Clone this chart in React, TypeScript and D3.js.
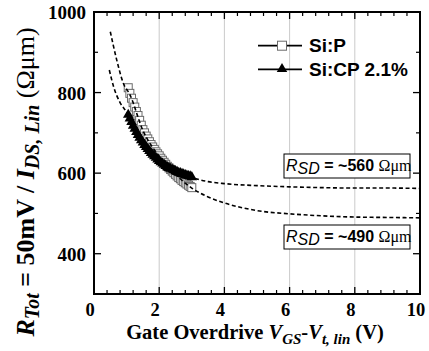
import React from "react";
import * as d3 from "d3";

const siPX = [1.05,1.1,1.15,1.2,1.25,1.3,1.35,1.4,1.45,1.5,1.55,1.6,1.65,1.7,1.75,1.8,1.85,1.9,1.95,2.0,2.05,2.1,2.15,2.2,2.25,2.3,2.35,2.4,2.45,2.5,2.55,2.6,2.65,2.7,2.75,2.8,2.85,2.9,2.95,3.0];
const siPY = [812,798,786,775,764,753,743,731,719,708,700,692,685,678,671,665,659,653,648,643,637,632,627,622,617,613,609,605,601,597,593,589,586,582,579,576,573,570,567,564];
const siCPX = siPX;
const siCPY = [745,736,727,718,710,702,695,688,682,676,670,665,660,655,650,646,642,638,634,630,627,624,621,618,615,613,611,609,607,605,603,601,600,598,597,595,594,593,592,590];

const fitPX = [0.5,0.7,0.9,1.1,1.5,2,2.5,3,3.5,4,5,6,7,8,9,10];
const fitPY = [951,880,823,795,706,642,597,563,541,526,507,499,494,491,490,489];
const fitCPX = [0.47,0.6,0.8,1.0,1.5,2,2.5,3,3.5,4,5,6,7,8,9,10];
const fitCPY = [856,815,775,752,677,630,605,589,579,574,569,566,564,563,563,562];

const xMajor = [0, 2, 4, 6, 8, 10];
const yMajor = [400, 600, 800, 1000];
const gridX = [2, 4, 6, 8];

const L = 94, R = 420, T = 12, B = 294;

export default function App() {
  const x = d3.scaleLinear().domain([0, 10]).range([L, R]);
  const y = d3.scaleLinear().domain([300, 1000]).range([B, T]);
  const line = d3.line<[number, number]>().x(d => x(d[0])).y(d => y(d[1])).curve(d3.curveMonotoneX);
  const fitP = line(fitPX.map((v, i) => [v, fitPY[i]]) as [number, number][]) || "";
  const fitCP = line(fitCPX.map((v, i) => [v, fitCPY[i]]) as [number, number][]) || "";
  const xMinor = d3.range(0, 10.001, 0.4).filter(v => Math.abs(v / 2 - Math.round(v / 2)) > 0.01);
  const yMinor = [500, 700, 900];
  const tri = d3.symbol().type(d3.symbolTriangle).size(48)() || "";
  const sq = 8;
  const serif = "'Liberation Serif', 'Times New Roman', serif";
  const sans = "'Liberation Sans', Arial, sans-serif";

  return (
    <svg width={429} height={351} style={{ position: "absolute", left: 0, top: 0, background: "#fff" }}>
      <rect x={0} y={0} width={429} height={351} fill="#fff" />
      {gridX.map(v => (
        <line key={"g" + v} x1={x(v)} x2={x(v)} y1={T} y2={B} stroke="#bdbdbd" strokeWidth={0.8} />
      ))}
      {siPX.map((v, i) => (
        <rect key={"s" + i} x={x(v) - sq / 2} y={y(siPY[i]) - sq / 2} width={sq} height={sq} fill="#fff" stroke="#6a6a6a" strokeWidth={1} />
      ))}
      {siCPX.map((v, i) => (
        <path key={"t" + i} d={tri} transform={`translate(${x(v)},${y(siCPY[i])})`} fill="#000" />
      ))}
      <path d={fitP} fill="none" stroke="#000" strokeWidth={1.6} strokeDasharray="4,2.6" />
      <path d={fitCP} fill="none" stroke="#000" strokeWidth={1.6} strokeDasharray="4,2.6" />
      {xMajor.map(v => (
        <g key={"xm" + v}>
          <line x1={x(v)} x2={x(v)} y1={B} y2={B - 7} stroke="#000" strokeWidth={1.3} />
          <line x1={x(v)} x2={x(v)} y1={T} y2={T + 7} stroke="#000" strokeWidth={1.3} />
          <text x={x(v) - 4} y={315.5} textAnchor="middle" fontFamily={serif} fontWeight="bold" fontSize={18.5}>{v}</text>
        </g>
      ))}
      {xMinor.map(v => (
        <g key={"xn" + v}>
          <line x1={x(v)} x2={x(v)} y1={B} y2={B - 4} stroke="#000" strokeWidth={1.2} />
          <line x1={x(v)} x2={x(v)} y1={T} y2={T + 4} stroke="#000" strokeWidth={1.2} />
        </g>
      ))}
      {yMajor.map(v => (
        <g key={"ym" + v}>
          <line x1={L} x2={L + 7} y1={y(v)} y2={y(v)} stroke="#000" strokeWidth={1.3} />
          <line x1={R} x2={R - 7} y1={y(v)} y2={y(v)} stroke="#000" strokeWidth={1.3} />
          <text x={86} y={y(v) + 7} textAnchor="end" fontFamily={serif} fontWeight="bold" fontSize={19}>{v}</text>
        </g>
      ))}
      {yMinor.map(v => (
        <g key={"yn" + v}>
          <line x1={L} x2={L + 4} y1={y(v)} y2={y(v)} stroke="#000" strokeWidth={1.2} />
          <line x1={R} x2={R - 4} y1={y(v)} y2={y(v)} stroke="#000" strokeWidth={1.2} />
        </g>
      ))}
      <rect x={L} y={T} width={R - L} height={B - T} fill="none" stroke="#000" strokeWidth={2} />
      <line x1={258} x2={302} y1={45.7} y2={45.7} stroke="#000" strokeWidth={1.8} />
      <rect x={282 - 4.5} y={45.7 - 4.5} width={9} height={9} fill="#fff" stroke="#6a6a6a" strokeWidth={1} />
      <text x={309} y={52} fontFamily={sans} fontWeight="bold" fontSize={19}>Si:P</text>
      <line x1={258} x2={302} y1={69.3} y2={69.3} stroke="#000" strokeWidth={1.8} />
      <path d={tri} transform="translate(282,69)" fill="#000" />
      <text x={309} y={76} fontFamily={sans} fontWeight="bold" fontSize={19}>Si:CP 2.1%</text>
      {[{ y0: 154, lab: "~560" }, { y0: 225, lab: "~490" }].map(b => (
        <g key={b.lab}>
          <rect x={284} y={b.y0} width={126} height={24} fill="#fff" stroke="#000" strokeWidth={1} />
          <text x={286} y={b.y0 + 17} fontFamily={sans} fontSize={16}>
            <tspan fontStyle="italic">R</tspan>
            <tspan fontStyle="italic" dy={3}>SD</tspan>
            <tspan dy={-3} fontWeight="bold"> = {b.lab} </tspan>
            <tspan fontFamily={serif} fontSize={16}>Ωμm</tspan>
          </text>
        </g>
      ))}
      <text x={255} y={338.5} textAnchor="middle" fontFamily={serif} fontWeight="bold" fontSize={20.5}>
        Gate Overdrive <tspan fontStyle="italic">V</tspan>
        <tspan fontStyle="italic" fontSize={15} dy={5}>GS</tspan>
        <tspan dy={-5}>-</tspan>
        <tspan fontStyle="italic">V</tspan>
        <tspan fontStyle="italic" fontSize={15} dy={5}>t, lin</tspan>
        <tspan dy={-5}> (V)</tspan>
      </text>
      <text transform="translate(34,182) rotate(-90)" textAnchor="middle" fontFamily={serif} fontWeight="bold" fontSize={26}>
        <tspan fontStyle="italic">R</tspan>
        <tspan fontStyle="italic" fontSize={20} dy={5}>Tot</tspan>
        <tspan dy={-5}> = 50mV / </tspan>
        <tspan fontStyle="italic">I</tspan>
        <tspan fontStyle="italic" fontSize={20} dy={5}>DS, Lin</tspan>
        <tspan dy={-5} fontWeight="normal"> (Ωμm)</tspan>
      </text>
    </svg>
  );
}
